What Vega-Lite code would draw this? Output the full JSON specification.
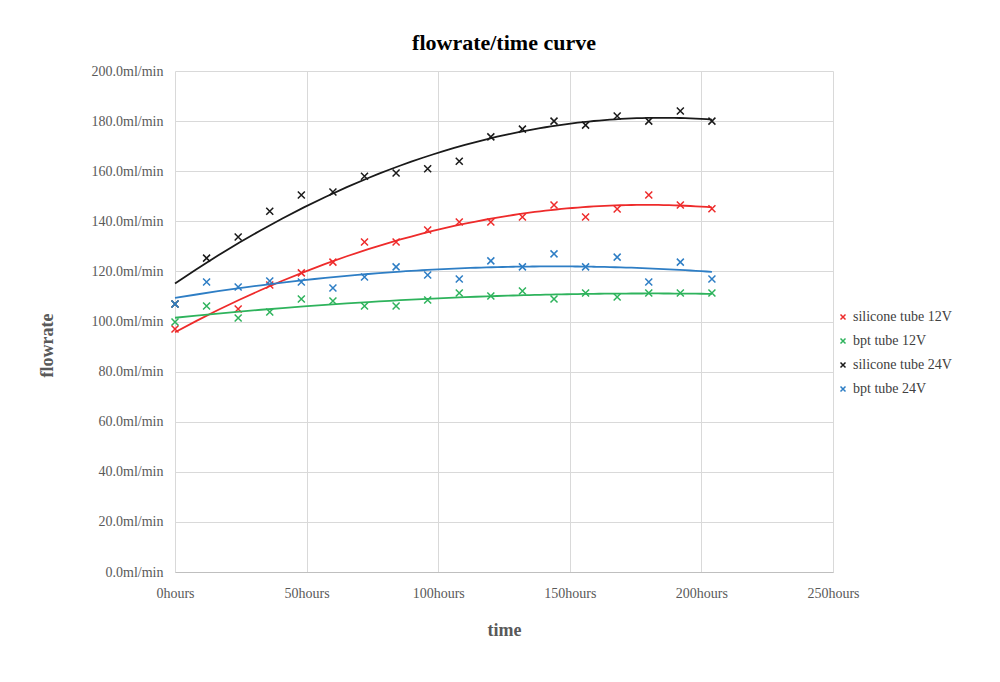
{
  "$schema": "https://vega.github.io/schema/vega-lite/v6.json",
  "width": 658,
  "height": 501,
  "autosize": {"type": "none"},
  "padding": {"left": 175, "top": 71, "right": 167, "bottom": 110},
  "background": "white",
  "config": {"view": {"stroke": null}},
  "title": {"text": "flowrate/time curve", "font": "Liberation Serif", "fontSize": 22, "fontWeight": "bold", "color": "#000000", "anchor": "middle", "offset": 9},
  "data": {"values": [
    {"t": 0, "v": 97, "s": "silicone tube 12V"},
    {"t": 24, "v": 105, "s": "silicone tube 12V"},
    {"t": 36, "v": 114.6, "s": "silicone tube 12V"},
    {"t": 48, "v": 119.4, "s": "silicone tube 12V"},
    {"t": 60, "v": 123.7, "s": "silicone tube 12V"},
    {"t": 72, "v": 131.7, "s": "silicone tube 12V"},
    {"t": 84, "v": 131.7, "s": "silicone tube 12V"},
    {"t": 96, "v": 136.5, "s": "silicone tube 12V"},
    {"t": 108, "v": 139.7, "s": "silicone tube 12V"},
    {"t": 120, "v": 139.7, "s": "silicone tube 12V"},
    {"t": 132, "v": 141.7, "s": "silicone tube 12V"},
    {"t": 144, "v": 146.5, "s": "silicone tube 12V"},
    {"t": 156, "v": 141.7, "s": "silicone tube 12V"},
    {"t": 168, "v": 144.9, "s": "silicone tube 12V"},
    {"t": 180, "v": 150.5, "s": "silicone tube 12V"},
    {"t": 192, "v": 146.5, "s": "silicone tube 12V"},
    {"t": 204, "v": 145, "s": "silicone tube 12V"},
    {"t": 0, "v": 99.8, "s": "bpt tube 12V"},
    {"t": 12, "v": 106.2, "s": "bpt tube 12V"},
    {"t": 24, "v": 101.4, "s": "bpt tube 12V"},
    {"t": 36, "v": 103.8, "s": "bpt tube 12V"},
    {"t": 48, "v": 109, "s": "bpt tube 12V"},
    {"t": 60, "v": 108.2, "s": "bpt tube 12V"},
    {"t": 72, "v": 106.2, "s": "bpt tube 12V"},
    {"t": 84, "v": 106.2, "s": "bpt tube 12V"},
    {"t": 96, "v": 108.6, "s": "bpt tube 12V"},
    {"t": 108, "v": 111.4, "s": "bpt tube 12V"},
    {"t": 120, "v": 110.2, "s": "bpt tube 12V"},
    {"t": 132, "v": 112.2, "s": "bpt tube 12V"},
    {"t": 144, "v": 109, "s": "bpt tube 12V"},
    {"t": 156, "v": 111.4, "s": "bpt tube 12V"},
    {"t": 168, "v": 109.8, "s": "bpt tube 12V"},
    {"t": 180, "v": 111.4, "s": "bpt tube 12V"},
    {"t": 192, "v": 111.4, "s": "bpt tube 12V"},
    {"t": 204, "v": 111.4, "s": "bpt tube 12V"},
    {"t": 0, "v": 107, "s": "silicone tube 24V"},
    {"t": 12, "v": 125.3, "s": "silicone tube 24V"},
    {"t": 24, "v": 133.7, "s": "silicone tube 24V"},
    {"t": 36, "v": 144, "s": "silicone tube 24V"},
    {"t": 48, "v": 150.5, "s": "silicone tube 24V"},
    {"t": 60, "v": 151.7, "s": "silicone tube 24V"},
    {"t": 72, "v": 158, "s": "silicone tube 24V"},
    {"t": 84, "v": 159.3, "s": "silicone tube 24V"},
    {"t": 96, "v": 161, "s": "silicone tube 24V"},
    {"t": 108, "v": 164, "s": "silicone tube 24V"},
    {"t": 120, "v": 173.7, "s": "silicone tube 24V"},
    {"t": 132, "v": 176.8, "s": "silicone tube 24V"},
    {"t": 144, "v": 180, "s": "silicone tube 24V"},
    {"t": 156, "v": 178.4, "s": "silicone tube 24V"},
    {"t": 168, "v": 182, "s": "silicone tube 24V"},
    {"t": 180, "v": 180, "s": "silicone tube 24V"},
    {"t": 192, "v": 184, "s": "silicone tube 24V"},
    {"t": 204, "v": 180, "s": "silicone tube 24V"},
    {"t": 0, "v": 107, "s": "bpt tube 24V"},
    {"t": 12, "v": 115.8, "s": "bpt tube 24V"},
    {"t": 24, "v": 113.8, "s": "bpt tube 24V"},
    {"t": 36, "v": 116.2, "s": "bpt tube 24V"},
    {"t": 48, "v": 115.8, "s": "bpt tube 24V"},
    {"t": 60, "v": 113.4, "s": "bpt tube 24V"},
    {"t": 72, "v": 117.8, "s": "bpt tube 24V"},
    {"t": 84, "v": 121.8, "s": "bpt tube 24V"},
    {"t": 96, "v": 118.6, "s": "bpt tube 24V"},
    {"t": 108, "v": 117, "s": "bpt tube 24V"},
    {"t": 120, "v": 124.2, "s": "bpt tube 24V"},
    {"t": 132, "v": 121.8, "s": "bpt tube 24V"},
    {"t": 144, "v": 127, "s": "bpt tube 24V"},
    {"t": 156, "v": 121.8, "s": "bpt tube 24V"},
    {"t": 168, "v": 125.7, "s": "bpt tube 24V"},
    {"t": 180, "v": 115.8, "s": "bpt tube 24V"},
    {"t": 192, "v": 123.7, "s": "bpt tube 24V"},
    {"t": 204, "v": 117, "s": "bpt tube 24V"}
  ]},
  "encoding": {
    "x": {
      "field": "t", "type": "quantitative",
      "scale": {"domain": [0, 250], "nice": false},
      "axis": {
        "values": [0, 50, 100, 150, 200, 250],
        "labelExpr": "datum.value + 'hours'",
        "title": "time",
        "labelFont": "Liberation Serif", "labelFontSize": 14, "labelColor": "#595959", "labelPadding": 14,
        "labelFlush": false, "labelOverlap": false, "labelAlign": "center",
        "titleFont": "Liberation Serif", "titleFontSize": 18, "titleFontWeight": "bold", "titleColor": "#595959", "titlePadding": 21,
        "ticks": false, "domainColor": "#BFBFBF", "grid": true, "gridColor": "#D9D9D9"
      }
    },
    "y": {
      "field": "v", "type": "quantitative",
      "scale": {"domain": [0, 200], "nice": false},
      "axis": {
        "values": [0, 20, 40, 60, 80, 100, 120, 140, 160, 180, 200],
        "labelExpr": "format(datum.value, '.1f') + 'ml/min'",
        "title": "flowrate",
        "labelFont": "Liberation Serif", "labelFontSize": 14, "labelColor": "#595959", "labelPadding": 12,
        "titleFont": "Liberation Serif", "titleFontSize": 18, "titleFontWeight": "bold", "titleColor": "#595959", "titlePadding": 35,
        "titleY": 274,
        "ticks": false, "domain": false, "grid": true, "gridColor": "#D9D9D9"
      }
    },
    "color": {
      "field": "s", "type": "nominal",
      "scale": {
        "domain": ["silicone tube 12V", "bpt tube 12V", "silicone tube 24V", "bpt tube 24V"],
        "range": ["#EE2B2B", "#2EB35C", "#1A1A1A", "#2E7EC5"]
      },
      "legend": {
        "title": null, "orient": "none", "legendX": 661, "legendY": 239,
        "symbolType": "M-1,-1L1,1M-1,1L1,-1", "symbolSize": 25, "symbolStrokeWidth": 1.5, "symbolFillColor": "transparent",
        "labelFont": "Liberation Serif", "labelFontSize": 14, "labelColor": "#404040", "rowPadding": 10, "labelOffset": 3
      }
    }
  },
  "layer": [
    {"mark": {"type": "point", "shape": "M-1,-1L1,1M-1,1L1,-1", "filled": false, "strokeWidth": 1.5, "size": 49, "opacity": 1}},
    {
      "transform": [{"regression": "v", "on": "t", "groupby": ["s"], "method": "poly", "order": 2, "extent": [0, 204]}],
      "mark": {"type": "line", "strokeWidth": 1.8}
    }
  ]
}
